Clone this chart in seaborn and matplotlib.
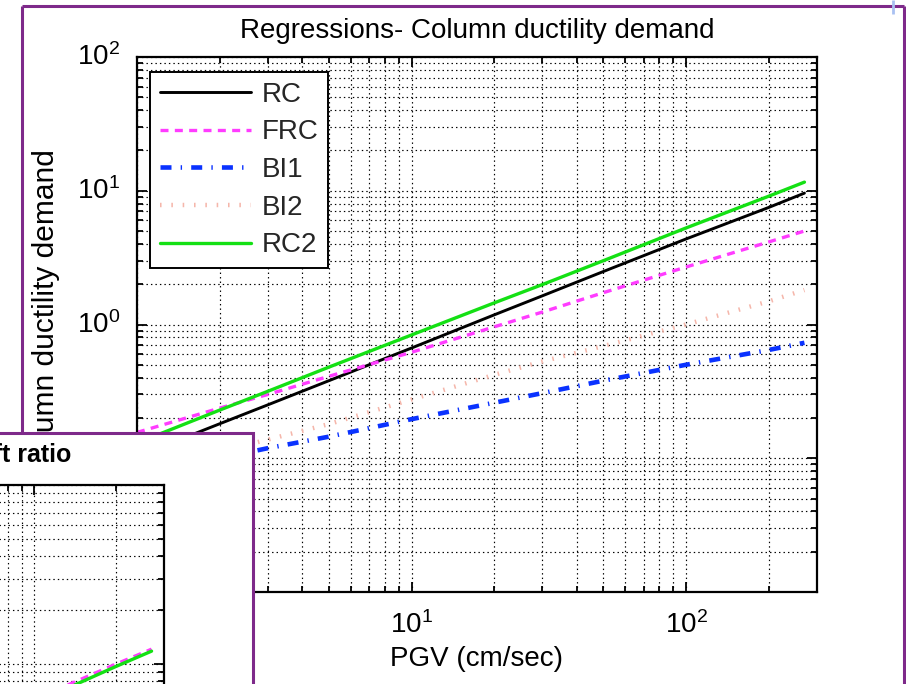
import numpy as np
import pandas as pd
import matplotlib
matplotlib.use("Agg")
import matplotlib.pyplot as plt
import seaborn as sns
from matplotlib.patches import Rectangle
from matplotlib.lines import Line2D
from matplotlib.ticker import LogLocator, NullFormatter
from matplotlib.transforms import ScaledTranslation

# PGV sample points (cm/sec)
pgv = [1, 2, 3, 5, 10, 20, 30, 50, 100, 200, 270]

# Regression curves: column ductility demand vs PGV
rc = [0.103, 0.181, 0.251, 0.38, 0.667, 1.18, 1.64, 2.49, 4.36, 7.5, 9.6]
frc = [0.156, 0.237, 0.30, 0.41, 0.62, 0.96, 1.24, 1.73, 2.69, 4.14, 5.0]
bi1 = [0.076, 0.10, 0.119, 0.145, 0.196, 0.26, 0.307, 0.38, 0.50, 0.645, 0.73]
bi2 = [0.078, 0.112, 0.138, 0.18, 0.275, 0.42, 0.53, 0.69, 1.0, 1.49, 1.81]
rc2 = [0.13, 0.229, 0.317, 0.48, 0.835, 1.45, 1.99, 3.0, 5.27, 9.1, 11.6]

series_names = ["RC", "FRC", "BI1", "BI2", "RC2"]
series_values = [rc, frc, bi1, bi2, rc2]

# Second figure window: drift ratio regressions
pgv_drift = [100, 137, 200, 270]
frc_drift = [0.63, 0.78, 1.0, 1.21]
rc2_drift = [0.61, 0.75, 0.97, 1.18]

main_title = "Regressions- Column ductility demand"
drift_title = "Regressions- Maximum drift ratio"
x_label = "PGV (cm/sec)"
y_label = "Column ductility demand"

styles = {
    "RC": dict(color="#000000", lw=2.1, linestyle="-"),
    "FRC": dict(color="#ff3cff", lw=2.4, linestyle=(0, (2.4, 1.9))),
    "BI1": dict(color="#0a32ff", lw=3.3, linestyle=(0, (2.4, 2.0, 0.3, 2.0))),
    "BI2": dict(color="#f5b6aa", lw=3.2, linestyle=(0, (0.35, 2.2))),
    "RC2": dict(color="#14e014", lw=2.4, linestyle="-"),
}

sns.set_style("white")
plt.rcParams["font.family"] = ["Liberation Sans", "DejaVu Sans"]
plt.rcParams["mathtext.default"] = "regular"

W, H = 906, 684
fig = plt.figure(figsize=(W / 100, H / 100), dpi=100)
fig.patch.set_facecolor("white")


def px_box(left, top, right, bottom):
    return [left / W, (H - bottom) / H, (right - left) / W, (bottom - top) / H]


def style_log_axes(ax, xlim, ylim):
    ax.set_xscale("log")
    ax.set_yscale("log")
    ax.set_xlim(*xlim)
    ax.set_ylim(*ylim)
    ax.xaxis.set_major_locator(LogLocator(base=10, numticks=10))
    ax.yaxis.set_major_locator(LogLocator(base=10, numticks=10))
    ax.xaxis.set_minor_locator(LogLocator(base=10, subs=np.arange(2, 10), numticks=20))
    ax.yaxis.set_minor_locator(LogLocator(base=10, subs=np.arange(2, 10), numticks=20))
    ax.xaxis.set_minor_formatter(NullFormatter())
    ax.yaxis.set_minor_formatter(NullFormatter())
    ax.grid(True, which="both", color="black", lw=0.85, linestyle=(0, (1.2, 2.6)))
    ax.set_axisbelow(True)
    for s in ax.spines.values():
        s.set_visible(True)
        s.set_color("black")
        s.set_linewidth(1.6)
    ax.tick_params(which="both", direction="in", top=True, right=True,
                   bottom=True, left=True, color="black", width=1.3)
    ax.tick_params(which="major", length=7)
    ax.tick_params(which="minor", length=4)
    ax.tick_params(axis="both", labelsize=20, labelcolor="black")
    ax.tick_params(axis="x", pad=14)
    ax.tick_params(axis="y", pad=12)
    ax.set_facecolor("white")


# Main window axes
ax = fig.add_axes(px_box(137, 57, 817, 592), zorder=0)
style_log_axes(ax, (1, 300), (0.01, 100))

handles = []
for name, vals in zip(series_names, series_values):
    st = styles[name]
    sns.lineplot(x=pgv, y=vals, ax=ax, estimator=None, sort=False,
                 color=st["color"], lw=st["lw"], linestyle=st["linestyle"],
                 label=name, legend=False)
    handles.append(ax.lines[-1])

ax.set_title(main_title, fontsize=20, pad=14, color="black")
ax.set_xlabel(x_label, fontsize=20, color="black")
ax.xaxis.set_label_coords(0.5, -0.1)
ax.set_ylabel(y_label, fontsize=21.5, color="black")
ax.yaxis.set_label_coords(-0.113, 0.521)

leg = ax.legend(handles=handles, labels=series_names, loc="upper left",
                bbox_to_anchor=((150 - 137) / 680, 1 - (72 - 57) / 535),
                borderaxespad=0, fontsize=20, frameon=True, fancybox=False,
                framealpha=1, edgecolor="black", handlelength=3.27,
                handletextpad=0.4, borderpad=0.35, labelspacing=0.42)
leg.get_frame().set_linewidth(1.4)

# Lift the y tick labels slightly so the mantissa sits on the tick
fig.canvas.draw()
for t in ax.yaxis.get_major_ticks():
    t.label1.set_transform(t.label1.get_transform()
                           + ScaledTranslation(0, 2 / 72, fig.dpi_scale_trans))

purple = "#7e2a8a"
# Main window frame
fig.add_artist(Line2D([22 / W, 904 / W], [(H - 6) / H, (H - 6) / H],
                      color=purple, lw=2.2, zorder=0.5, solid_capstyle="butt"))
fig.add_artist(Line2D([22 / W, 22 / W], [(H - 6) / H, 0], color=purple, lw=2.2,
                      zorder=0.5, solid_capstyle="butt"))
fig.add_artist(Line2D([904 / W, 904 / W], [(H - 6) / H, 0], color=purple, lw=2.2,
                      zorder=0.5, solid_capstyle="butt"))
fig.add_artist(Line2D([893 / W, 893 / W], [1, (H - 14) / H], color="#a9c1f2",
                      lw=2.0, zorder=0.5, solid_capstyle="butt"))

# Second window overlapping the lower left corner
fig.add_artist(Rectangle((-20 / W, -20 / H), (253 + 20) / W, (H - 433 + 20) / H,
                         facecolor="white", edgecolor=purple, lw=2.2, zorder=1))

ax2 = fig.add_axes(px_box(-509, 485, 164, 1022), zorder=2)
style_log_axes(ax2, (1, 300), (0.01, 10))
ax2.tick_params(labelbottom=False, labelleft=False)
for name, vals in (("FRC", frc_drift), ("RC2", rc2_drift)):
    st = styles[name]
    sns.lineplot(x=pgv_drift, y=vals, ax=ax2, estimator=None, sort=False,
                 color=st["color"], lw=st["lw"], linestyle=st["linestyle"],
                 legend=False)
ax2.text(0.863, 1 + 23 / 537, drift_title, transform=ax2.transAxes,
         ha="right", va="baseline", fontsize=18, fontweight="bold", color="black")

fig.savefig("out.png", dpi=100, facecolor="white")
